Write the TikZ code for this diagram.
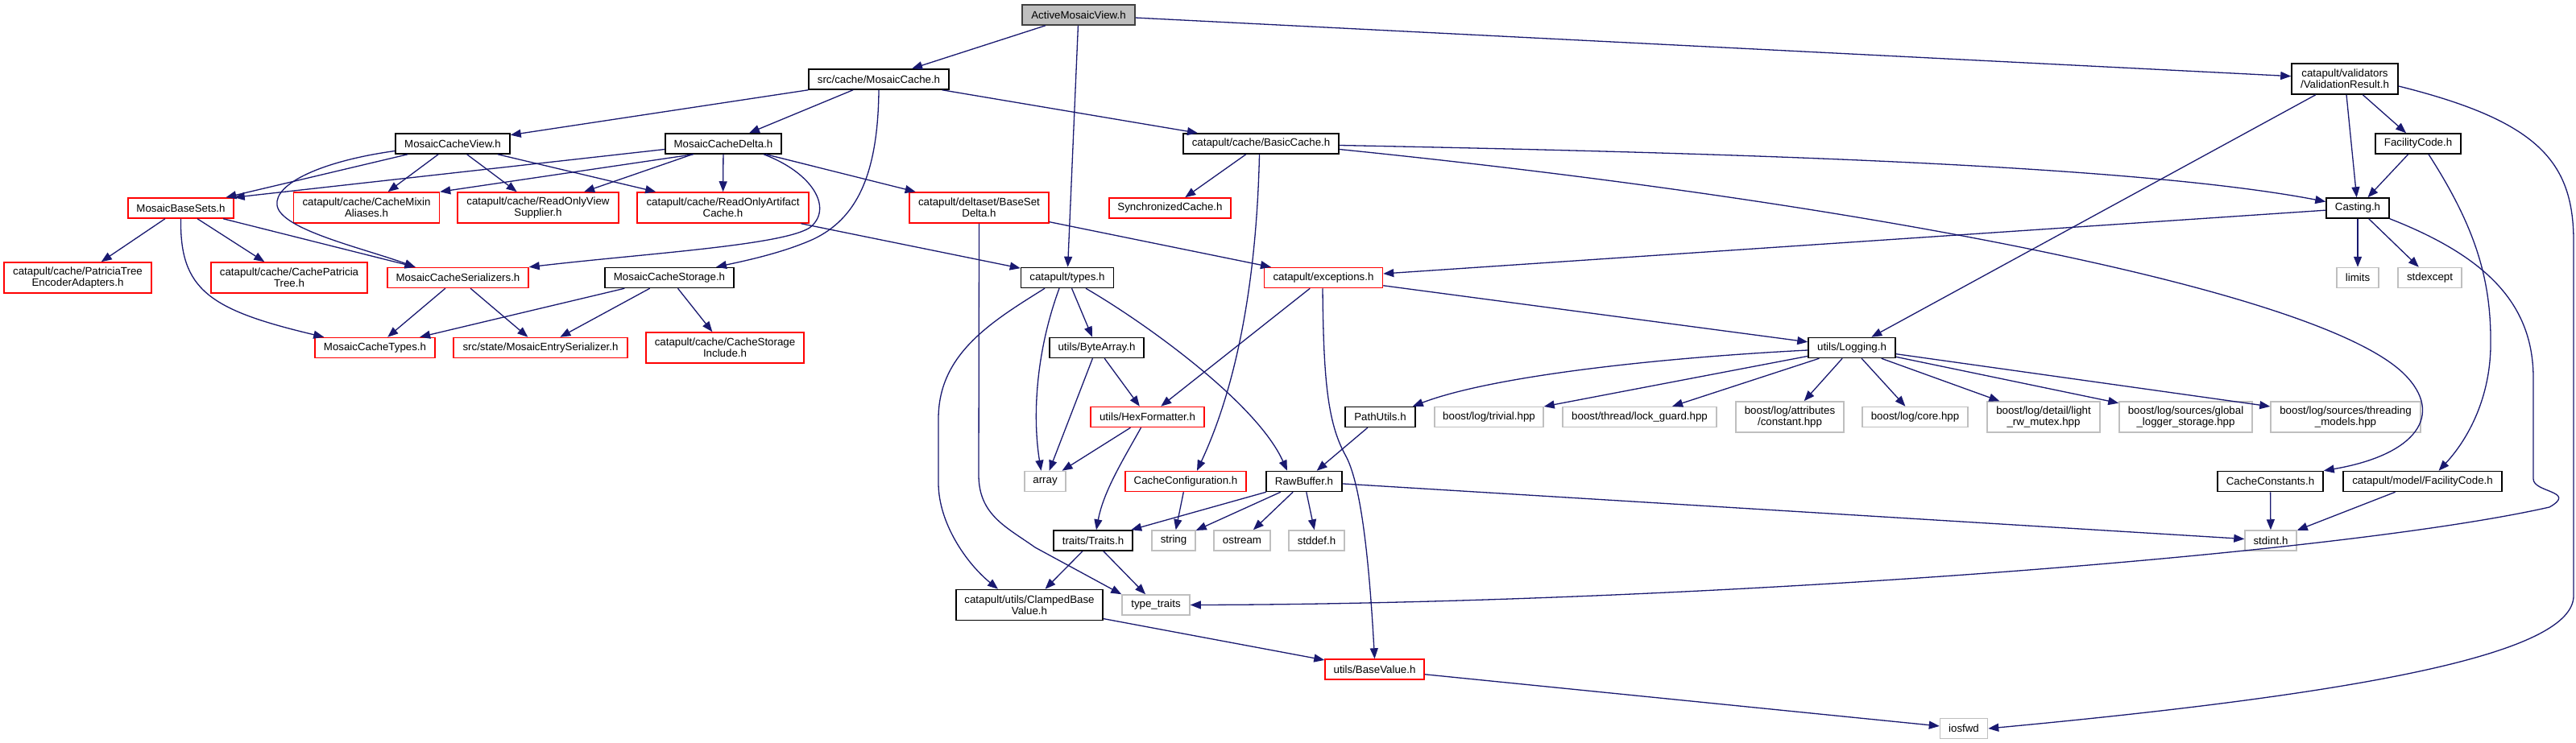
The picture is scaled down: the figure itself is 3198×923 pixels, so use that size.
\documentclass[tikz,border=0pt]{standalone}
\usepackage{fontspec}
\setmainfont{Liberation Sans}
\usetikzlibrary{arrows.meta}
\definecolor{midnight}{HTML}{191970}
\definecolor{greyline}{HTML}{BFBFBF}
\definecolor{rootfill}{HTML}{BFBFBF}
\definecolor{redline}{HTML}{FF0000}
\newcommand{\dgfont}{\fontsize{13.3}{13.6}\selectfont}
\begin{document}
\begin{tikzpicture}[x=1pt,y=-1pt,
  base/.style={rectangle, inner sep=0pt, align=center, font=\dgfont, line width=1.5pt, minimum height=25pt},
  bk/.style={base, draw=black},
  rd/.style={base, draw=redline},
  gy/.style={base, draw=greyline},
  root/.style={base, draw=black!75, fill=rootfill},
  two/.style={minimum height=38pt},
  e/.style={draw=midnight, line width=1.3pt, -{Triangle[length=13pt,width=10pt]}}]
\useasboundingbox[fill=white] (0,0) rectangle (3198,923);

% ---- nodes ----
\node[root, minimum width=140pt] (amv) at (1339,18.5) {ActiveMosaicView.h};
\node[bk, minimum width=174pt] (mc) at (1091,98.5) {src/cache/MosaicCache.h};
\node[bk, two, minimum width=132pt] (vr) at (2911,98) {catapult/validators\\/ValidationResult.h};
\node[bk, minimum width=142pt] (mcv) at (562,178.5) {MosaicCacheView.h};
\node[bk, minimum width=144pt] (mcd) at (898,178.5) {MosaicCacheDelta.h};
\node[bk, minimum width=193pt] (bc) at (1565.5,178.5) {catapult/cache/BasicCache.h};
\node[bk, minimum width=106pt] (fc) at (3002,178.5) {FacilityCode.h};
\node[rd, minimum width=131pt] (mbs) at (224.5,258.5) {MosaicBaseSets.h};
\node[rd, two, minimum width=181pt] (cma) at (455,258) {catapult/cache/CacheMixin\\Aliases.h};
\node[rd, two, minimum width=200pt] (rovs) at (668,258) {catapult/cache/ReadOnlyView\\Supplier.h};
\node[rd, two, minimum width=213pt] (roac) at (897.5,258) {catapult/cache/ReadOnlyArtifact\\Cache.h};
\node[rd, two, minimum width=173pt] (bsd) at (1215.5,258) {catapult/deltaset/BaseSet\\Delta.h};
\node[rd, minimum width=151pt] (sc) at (1452.5,258.5) {SynchronizedCache.h};
\node[bk, minimum width=78pt] (cast) at (2927,258.5) {Casting.h};
\node[rd, two, minimum width=183pt] (ptea) at (96.5,345) {catapult/cache/PatriciaTree\\EncoderAdapters.h};
\node[rd, two, minimum width=194pt] (cpt) at (359,345) {catapult/cache/CachePatricia\\Tree.h};
\node[rd, minimum width=175pt] (mcser) at (568.5,345) {MosaicCacheSerializers.h};
\node[bk, minimum width=160pt] (mcs) at (831,345) {MosaicCacheStorage.h};
\node[bk, minimum width=115pt] (types) at (1325,345) {catapult/types.h};
\node[rd, minimum width=147pt] (exc) at (1643,345) {catapult/exceptions.h};
\node[gy, minimum width=52pt] (limits) at (2927,345) {limits};
\node[gy, minimum width=79pt] (stdexcept) at (3016.5,345) {stdexcept};
\node[rd, minimum width=149pt] (mct) at (465.5,432) {MosaicCacheTypes.h};
\node[rd, minimum width=216pt] (mes) at (671,432) {src/state/MosaicEntrySerializer.h};
\node[rd, two, minimum width=196pt] (csi) at (900,432) {catapult/cache/CacheStorage\\Include.h};
\node[bk, minimum width=117pt] (ba) at (1361.5,432) {utils/ByteArray.h};
\node[bk, minimum width=108pt] (log) at (2299,432) {utils/Logging.h};
\node[rd, minimum width=141pt] (hex) at (1424.5,518) {utils/HexFormatter.h};
\node[bk, minimum width=87pt] (pu) at (1713.5,518) {PathUtils.h};
\node[gy, minimum width=135pt] (trivial) at (1848.5,518) {boost/log/trivial.hpp};
\node[gy, minimum width=191pt] (lg) at (2035.5,518) {boost/thread/lock\_guard.hpp};
\node[gy, two, minimum width=134pt] (constant) at (2222,518) {boost/log/attributes\\/constant.hpp};
\node[gy, minimum width=131pt] (core) at (2377.5,518) {boost/log/core.hpp};
\node[gy, two, minimum width=140pt] (lrw) at (2537,518) {boost/log/detail/light\\\_rw\_mutex.hpp};
\node[gy, two, minimum width=165pt] (gls) at (2713.5,518) {boost/log/sources/global\\\_logger\_storage.hpp};
\node[gy, two, minimum width=186pt] (tm) at (2912,518) {boost/log/sources/threading\\\_models.hpp};
\node[gy, minimum width=51pt] (array) at (1297.5,598) {array};
\node[rd, minimum width=150pt] (cconf) at (1472,598) {CacheConfiguration.h};
\node[bk, minimum width=94pt] (rb) at (1619,598) {RawBuffer.h};
\node[bk, minimum width=131pt] (ccon) at (2818.5,598) {CacheConstants.h};
\node[bk, minimum width=197pt] (mfc) at (3007.5,598) {catapult/model/FacilityCode.h};
\node[bk, minimum width=98pt] (traits) at (1357,671.5) {traits/Traits.h};
\node[gy, minimum width=54pt] (string) at (1457,671.5) {string};
\node[gy, minimum width=70pt] (ostream) at (1542,671.5) {ostream};
\node[gy, minimum width=69pt] (stddef) at (1634.5,671.5) {stddef.h};
\node[gy, minimum width=64pt] (stdint) at (2819,671.5) {stdint.h};
\node[bk, two, minimum width=182pt] (cbv) at (1278,751.5) {catapult/utils/ClampedBase\\Value.h};
\node[gy, minimum width=84pt] (tt) at (1435,751.5) {type\_traits};
\node[rd, minimum width=123pt] (bv) at (1706.5,831.5) {utils/BaseValue.h};
\node[gy, minimum width=59pt] (iosfwd) at (2438,905) {iosfwd};

% ---- edges ----
\draw[e] (amv) -- (mc);
\draw[e] (amv) -- (types);
\draw[e] (amv) -- (vr);
\draw[e] (mc) -- (mcv);
\draw[e] (mc) -- (mcd);
\draw[e] (mc.south) .. controls (1090,220) and (1062,272) .. (1010,297) .. controls (970,315) and (920,325) .. ([xshift=58pt]mcs.north);
\draw[e] (mc) -- (bc);
\draw[e] (mcv) -- (mbs);
\draw[e] (mcv) -- (cma);
\draw[e] (mcv) -- (rovs);
\draw[e] (mcv) -- (roac);
\draw[e] ([yshift=-9pt]mcv.west) .. controls (400,200) and (340,228) .. (344,255) .. controls (348,285) and (450,308) .. ([xshift=-53pt]mcser.north);
\draw[e] ([yshift=-7pt]mcd.west) -- (mbs.north east);
\draw[e] ([xshift=-37pt]mcd.south) -- (cma.north east);
\draw[e] (mcd) -- (rovs);
\draw[e] (mcd) -- (roac);
\draw[e] (mcd) -- (bsd);
\draw[e] ([xshift=50pt]mcd.south) .. controls (1010,215) and (1035,260) .. (1005,283) .. controls (970,305) and (800,315) .. (mcser.north east);
\draw[e] (bc) -- (sc);
\draw[e] ([xshift=-2pt]bc.south) .. controls (1560,350) and (1535,480) .. ([xshift=14pt]cconf.north);
\draw[e] ([yshift=-2pt]bc.east) .. controls (2150,190) and (2650,205) .. ([yshift=8pt]cast.west);
\draw[e] ([yshift=-7pt]bc.east) .. controls (2300,250) and (2880,360) .. (2985,465) .. controls (3035,515) and (3000,565) .. (ccon.north east);
\draw[e] (vr) -- (log);
\draw[e] (vr) -- (cast);
\draw[e] (vr) -- (fc);
\draw[e] ([yshift=-9pt]vr.east) .. controls (3150,150) and (3195,200) .. (3195,300) -- (3195,740) .. controls (3195,810) and (2950,860) .. (iosfwd.east);
\draw[e] (fc) -- (cast);
\draw[e] ([xshift=13pt]fc.south) .. controls (3075,285) and (3093,350) .. (3092,430) .. controls (3091,500) and (3060,550) .. ([xshift=20pt]mfc.north);
\draw[e] (cast) -- (exc);
\draw[e] (cast) -- (limits);
\draw[e] (cast) -- (stdexcept);
\draw[e] (cast.south east) .. controls (3090,320) and (3145,380) .. (3145,470) -- (3145,595) .. controls (3145,612) and (3200,610) .. (3165,630) .. controls (2900,690) and (2100,750) .. (tt.east);
\draw[e] (bsd) -- (exc);
\draw[e] (bsd.south) -- (1215,590) .. controls (1215,640) and (1250,655) .. (1285,680) -- (tt.north west);
\draw[e] (roac) -- (types);
\draw[e] (mcs) -- (mct);
\draw[e] (mcs) -- (mes);
\draw[e] (mcs) -- (csi);
\draw[e] (mbs) -- (ptea);
\draw[e] (mbs) -- (cpt);
\draw[e] (mbs) -- (mcser);
\draw[e] (mbs.south) .. controls (223,360) and (260,385) .. ([xshift=12pt]mct.north west);
\draw[e] (mcser) -- (mct);
\draw[e] (mcser) -- (mes);
\draw[e] ([xshift=-28pt]types.south) .. controls (1230,400) and (1165,440) .. (1165,520) -- (1165,600) .. controls (1165,650) and (1200,700) .. ([xshift=-39pt]cbv.north);
\draw[e] ([xshift=-10pt]types.south) .. controls (1285,440) and (1282,520) .. ([xshift=-5pt]array.north);
\draw[e] (types) -- (ba);
\draw[e] ([xshift=23pt]types.south) .. controls (1420,400) and (1560,500) .. ([xshift=-21pt]rb.north);
\draw[e] (ba) -- (array);
\draw[e] (ba) -- (hex);
\draw[e] (exc) -- (hex);
\draw[e] (exc) -- (log);
\draw[e] ([xshift=-1pt]exc.south) .. controls (1643,470) and (1648,525) .. (1670,565) .. controls (1690,600) and (1700,700) .. (bv.north);
\draw[e] (hex) -- (array);
\draw[e] ([xshift=-8pt]hex.south) .. controls (1395,570) and (1370,610) .. ([xshift=4pt]traits.north);
\draw[e] (cconf) -- (string);
\draw[e] (rb) -- (traits);
\draw[e] (rb) -- (string);
\draw[e] (rb) -- (ostream);
\draw[e] (rb) -- (stddef);
\draw[e] (rb) -- (stdint);
\draw[e] (pu) -- (rb);
\draw[e] (traits) -- (cbv);
\draw[e] (traits) -- (tt);
\draw[e] (cbv) -- (bv);
\draw[e] (bv) -- (iosfwd);
\draw[e] ([yshift=-3pt]log.west) .. controls (2050,445) and (1850,468) .. ([xshift=-4pt]pu.north east);
\draw[e] (log) -- (trivial);
\draw[e] (log) -- (lg);
\draw[e] (log) -- (constant);
\draw[e] (log) -- (core);
\draw[e] (log) -- (lrw);
\draw[e] (log) -- (gls);
\draw[e] (log) -- (tm);
\draw[e] (ccon) -- (stdint);
\draw[e] (mfc) -- (stdint);
\end{tikzpicture}
\end{document}
